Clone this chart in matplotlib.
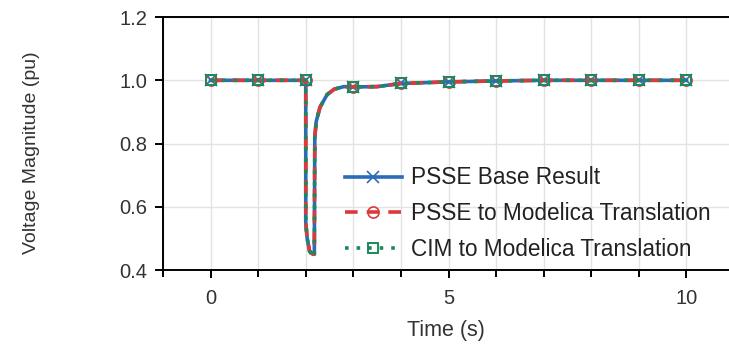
import numpy as np
import matplotlib
matplotlib.use("Agg")
import matplotlib.pyplot as plt
from matplotlib.ticker import MultipleLocator, FormatStrFormatter

plt.rcParams['font.family'] = ['Liberation Sans', 'DejaVu Sans']

# Bus voltage response to a fault applied at t = 2 s
time = [0, 1, 2, 2.0001, 2.03, 2.08, 2.15, 2.18, 2.19, 2.22, 2.3, 2.45, 2.6,
        2.8, 3, 3.5, 4, 5, 6, 7, 8, 9, 10]
v_psse_base = [1.0, 1.0, 1.0, 0.55, 0.50, 0.46, 0.45, 0.45, 0.82, 0.87, 0.915,
               0.955, 0.972, 0.98, 0.979, 0.98, 0.99, 0.995, 0.998, 1.0, 1.0, 1.0, 1.0]
v_psse_modelica = [1.0, 1.0, 1.0, 0.55, 0.50, 0.46, 0.45, 0.45, 0.82, 0.87, 0.915,
                   0.955, 0.972, 0.98, 0.979, 0.98, 0.99, 0.995, 0.998, 1.0, 1.0, 1.0, 1.0]
v_cim_modelica = [1.0, 1.0, 1.0, 0.55, 0.50, 0.46, 0.44, 0.44, 0.82, 0.87, 0.915,
                  0.955, 0.972, 0.98, 0.979, 0.98, 0.99, 0.995, 0.998, 1.0, 1.0, 1.0, 1.0]
series_labels = ["PSSE Base Result", "PSSE to Modelica Translation",
                 "CIM to Modelica Translation"]

# markers only on whole seconds
mark_idx = [i for i, t in enumerate(time) if float(t).is_integer()]

fig = plt.figure(figsize=(7.29, 3.48), dpi=100)
ax = fig.add_axes([0.2236, 0.224, 0.78, 0.727])

ax.plot(time, v_psse_base, color="#2a6cb8", lw=2.6, ls="-", marker="x",
        ms=8, mew=1.2, markevery=mark_idx, label=series_labels[0], zorder=3)
ax.plot(time, v_psse_modelica, color="#dc3a3a", lw=2.6, ls=(0, (3.5, 2.5)), marker="o",
        ms=8, mew=1.2, mfc="none", markevery=mark_idx, label=series_labels[1], zorder=4)
ax.plot(time, v_cim_modelica, color="#1b8a5a", lw=2.6, ls=(0, (1, 2.2)), marker="s",
        ms=7, mew=1.4, mfc="none", markevery=mark_idx, label=series_labels[2], zorder=5)

ax.set_xlim(-1, 10.95)
ax.set_ylim(0.4, 1.2)
ax.xaxis.set_major_locator(MultipleLocator(5))
ax.xaxis.set_minor_locator(MultipleLocator(1))
ax.yaxis.set_major_locator(MultipleLocator(0.2))
ax.yaxis.set_major_formatter(FormatStrFormatter("%.1f"))

ax.grid(True, which="both", axis="x", color="#e3e3e3", lw=1)
ax.grid(True, which="major", axis="y", color="#e3e3e3", lw=1)
ax.set_axisbelow(True)

for s in ["left", "bottom", "top"]:
    ax.spines[s].set_color("black")
    ax.spines[s].set_linewidth(1.4)
ax.spines["right"].set_visible(False)

ax.tick_params(axis="both", which="major", direction="out", length=6, width=1.4,
               labelsize=14.5, labelcolor="#333333", color="black")
ax.tick_params(axis="x", which="minor", direction="out", length=5, width=1.4, color="black")
ax.tick_params(axis="x", pad=8)
ax.tick_params(axis="y", pad=5)

ax.set_xlabel("Time (s)", fontsize=15.5, color="#333333")
ax.xaxis.set_label_coords(0.498, -0.198)
ax.set_ylabel("Voltage Magnitude (pu)", fontsize=14, color="#333333")
ax.yaxis.set_label_coords(-0.2165, 0.464)

leg = ax.legend(loc="center left", bbox_to_anchor=(0.32, 0.222), frameon=False,
                fontsize=16.3, handlelength=2.5, handletextpad=0.43, labelspacing=0.57,
                borderpad=0, borderaxespad=0, labelcolor="#222222")

fig.savefig("out.png", dpi=100)
